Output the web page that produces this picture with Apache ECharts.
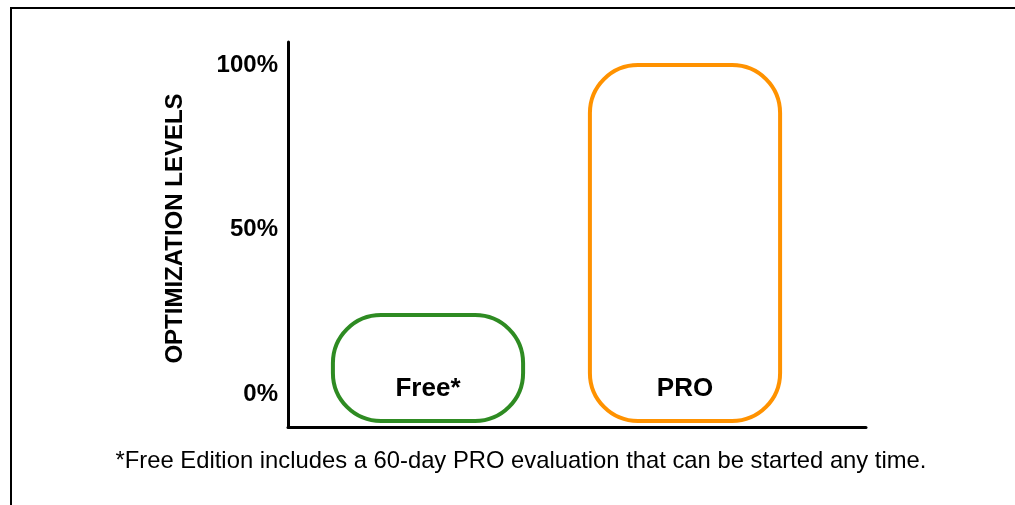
<!DOCTYPE html>
<html>
<head>
<meta charset="utf-8">
<script src="https://cdn.jsdelivr.net/npm/echarts@6/dist/echarts.min.js"></script>
<style>
html,body{margin:0;padding:0;background:#fff;}
#chart{width:1015px;height:505px;}
</style>
</head>
<body>
<div id="chart"></div>
<script>
// ---- data ----
const categories = ['Free*', 'PRO'];
const levels = [24, 100];
const tickValues = [0, 50, 100];
const tickLabels = ['0%', '50%', '100%'];
const yTitle = 'OPTIMIZATION LEVELS';
const footnote = '*Free Edition includes a 60-day PRO evaluation that can be started any time.';

// ---- styles ----
const FONT = '"Liberation Sans", Arial, Helvetica, sans-serif';
const barColors = ['#2E8B22', '#FF9200'];
const Y_MIN = -10, Y_MAX = 107;

const chart = echarts.init(document.getElementById('chart'), null, {renderer: 'canvas'});

const option = {
  backgroundColor: '#ffffff',
  animation: false,
  grid: [
    {left: 288, right: 149, top: 42, bottom: 78},
    {left: 299.5, right: 201.5, top: 42, bottom: 78}
  ],
  xAxis: [
    {
      gridIndex: 0, type: 'category', data: [''],
      axisLine: {show: true, onZero: false, lineStyle: {color: '#000', width: 3}},
      axisTick: {show: false}, axisLabel: {show: false}, splitLine: {show: false}
    },
    {
      gridIndex: 1, type: 'category', data: categories, show: false
    }
  ],
  yAxis: [
    {
      gridIndex: 0, type: 'value', min: Y_MIN, max: Y_MAX,
      axisLine: {show: true, lineStyle: {color: '#000', width: 3}},
      axisTick: {show: false},
      splitLine: {show: false},
      axisLabel: {
        customValues: tickValues,
        formatter: function (v) { return tickLabels[tickValues.indexOf(v)]; },
        fontFamily: FONT, fontWeight: 'bold', fontSize: 24, color: '#000', margin: 10
      },
      name: yTitle,
      nameLocation: 'middle',
      nameRotate: 90,
      nameGap: 101,
      nameTextStyle: {fontFamily: FONT, fontWeight: 'bold', fontSize: 24, color: '#000', padding: [0, 0, 0, 12]}
    },
    {
      gridIndex: 1, type: 'value', min: Y_MIN, max: Y_MAX, show: false, splitLine: {show: false}
    }
  ],
  series: [{
    type: 'custom',
    xAxisIndex: 1,
    yAxisIndex: 1,
    data: categories.map((c, i) => [i, levels[i]]),
    clip: false,
    renderItem: function (params, api) {
      const idx = api.value(0);
      const top = api.coord([idx, api.value(1)]);
      const band = api.size([1, 0])[0];
      const w = band * 0.74;
      const bottom = params.coordSys.y + params.coordSys.height - 6;
      return {
        type: 'rect',
        shape: {x: top[0] - w / 2, y: top[1], width: w, height: bottom - top[1], r: 48},
        style: {fill: '#ffffff', stroke: barColors[idx], lineWidth: 4},
        textContent: {
          style: {text: categories[idx], font: 'bold 26px ' + FONT, fill: '#000'}
        },
        textConfig: {position: 'insideBottom', distance: 21}
      };
    }
  }],
  graphic: [
    {
      type: 'rect', silent: true,
      shape: {x: 11, y: 8, width: 1200, height: 700},
      style: {fill: 'none', stroke: '#000', lineWidth: 2}
    },
    {
      type: 'text', silent: true,
      x: 521, y: 461,
      style: {text: footnote, font: '23.8px ' + FONT, fill: '#000', textAlign: 'center', textVerticalAlign: 'middle'}
    }
  ]
};
chart.setOption(option);
</script>
</body>
</html>
